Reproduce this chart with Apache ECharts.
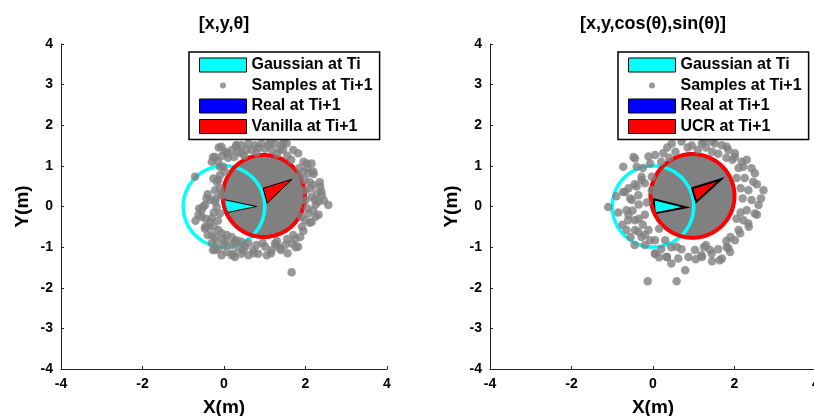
<!DOCTYPE html>
<html><head><meta charset="utf-8">
<script src="https://cdn.jsdelivr.net/npm/echarts@6/dist/echarts.min.js"></script>
<style>html,body{margin:0;padding:0;background:#fff}#c{width:814px;height:416px}</style>
</head><body><div id="c"></div><script>
// ---------- data ----------
const titles = ['[x,y,θ]', '[x,y,cos(θ),sin(θ)]'];
const legendNamesLeft = ['Gaussian at Ti', 'Samples at Ti+1', 'Real at Ti+1', 'Vanilla at Ti+1'];
const legendNamesRight = ['Gaussian at Ti', 'Samples at Ti+1', 'Real at Ti+1', 'UCR at Ti+1'];
const xTicks = [-4, -2, 0, 2, 4];
const yTicks = [-4, -3, -2, -1, 0, 1, 2, 3, 4];
const xName = 'X(m)';
const yName = 'Y(m)';

// circles: [cx, cy, r]; arrows: [x1,y1,x2,y2,x3,y3]
const leftGaussianCircle = [0.0, 0.0, 1.0];
const leftGaussianArrow = [0.0, 0.17, 0.02, -0.16, 0.8, 0.0];
const leftRealCircle = [0.96, 0.24, 1.02];
const leftVanillaCircle = [0.98, 0.26, 1.01];
const leftVanillaArrow = [0.96, 0.45, 1.06, 0.08, 1.67, 0.67];
const leftSampleCore = [0.98, 0.26, 1.01];

const rightGaussianCircle = [0.0, 0.0, 1.0];
const rightGaussianArrow = [0.02, 0.18, 0.04, -0.17, 0.81, -0.02];
const rightRealCircle = [0.96, 0.27, 1.05];
const rightUcrCircle = [0.97, 0.26, 1.03];
const rightUcrArrow = [0.96, 0.45, 1.06, 0.11, 1.67, 0.67];
const rightSampleCore = [0.97, 0.26, 1.03];

const leftSamples = [
[-0.06,1.47],[-0.22,1.22],[-0.30,1.10],[-0.14,1.10],[0.07,1.31],[0.19,1.39],[0.43,1.51],[0.60,1.55],[0.76,1.51],[0.92,1.55],
[1.09,1.51],[1.25,1.55],[1.42,1.51],[1.54,1.55],[1.70,1.39],[1.82,1.31],[1.37,1.39],[1.17,1.39],[0.35,1.35],[0.55,1.40],
[1.00,1.42],[0.43,1.31],[0.68,1.39],[-0.27,1.22],[-0.13,1.45],[0.03,1.35],
[0.10,1.20],[0.25,1.22],[0.50,1.25],[0.80,1.33],[1.30,1.30],[1.55,1.25],[1.65,1.15],[1.45,1.40],[0.85,1.45],[0.30,1.50],
[-0.05,1.25],[-0.10,0.98],[0.31,1.51],[1.13,1.59],[1.46,1.59],[2.03,1.06],[2.19,0.86],
[1.95,1.10],[2.15,1.06],[2.07,0.82],[2.19,0.53],[2.36,0.49],[2.40,0.28],[2.56,0.04],[2.32,0.12],[2.15,0.24],[2.19,-0.09],
[2.07,-0.17],[1.99,-0.34],[1.91,-0.50],[1.87,-0.75],[2.05,0.95],[2.10,0.60],[2.25,-0.25],[2.32,-0.20],[2.00,0.40],[2.05,-0.05],
[1.95,-0.60],[1.85,0.95],[2.35,0.60],[2.39,0.37],
[1.85,0.75],[1.98,0.65],[2.00,0.15],[2.10,-0.40],[1.90,-0.25],[2.20,0.80],[1.75,-0.80],[1.95,0.85],[2.25,0.05],[2.45,0.15],
[2.28,0.32],[2.12,0.45],[2.23,0.16],[2.15,-0.38],
[1.82,-0.99],[1.66,-0.91],[1.50,-0.95],[1.37,-1.03],[1.25,-0.91],[1.17,-1.07],[1.01,-0.99],[0.84,-1.16],[0.72,-1.07],[0.60,-1.20],
[0.52,-0.99],[0.43,-1.16],[0.27,-1.24],[0.19,-1.20],[0.07,-1.12],[-0.06,-1.20],[-0.22,-1.07],[-0.27,-1.07],[-0.14,-1.05],[1.56,-1.15],
[1.76,-1.00],[1.15,-1.15],[0.73,-1.15],[1.40,-1.07],[1.66,-1.62],
[1.55,-0.80],[1.30,-0.85],[0.95,-0.90],[0.60,-0.90],[1.05,-1.20],[0.35,-1.00],[0.00,-0.95],[-0.30,-0.90],[1.70,-0.70],[0.80,-0.95],
[1.29,-0.95],[0.47,-1.07],[0.23,-1.16],
[-0.63,-0.21],[-0.55,-0.09],[-0.47,0.03],[-0.34,0.16],[-0.38,-0.50],[-0.26,-0.50],[-0.14,-0.58],[-0.06,-0.66],[-0.22,-0.75],[-0.02,-0.79],
[0.07,-0.70],[0.19,-0.75],[0.27,-0.87],[-0.18,-0.01],[-0.30,-0.29],[-0.10,-0.17],[-0.22,0.40],[-0.14,0.65],[-0.26,0.69],[-0.10,0.77],
[0.02,0.86],[-0.02,0.98],[-0.61,-0.05],[-0.55,-0.25],[-0.46,-0.50],[-0.71,0.73],[0.43,-0.87],[0.31,-0.83],
[-0.40,0.30],[-0.45,-0.30],[-0.70,-0.35],[-0.25,-0.15],[-0.40,-0.70],[-0.15,-0.35],[-0.05,0.30],[-0.20,0.20],[-0.34,-0.38],[-0.47,-0.54],
[-0.30,-0.70],[-0.18,-0.87],[0.03,-0.87],[0.19,-0.95],[-0.22,0.12],[-0.06,0.28],[-0.18,0.61],[-0.10,0.45],[-0.51,0.00],[-0.43,0.20]
];

const rightSamples = [
[-1.10,-0.01],[-0.73,0.36],[-0.44,1.18],[-0.40,0.98],[-0.11,1.23],[-0.07,1.06],[0.05,1.27],[0.25,1.31],[0.46,1.55],[0.70,1.60],
[1.20,1.55],[1.44,1.60],[1.69,1.51],[1.85,1.39],[2.01,1.31],[2.18,1.10],[2.42,0.94],[2.50,0.82],[2.46,0.61],[2.34,0.40],
[2.71,0.40],[2.59,0.04],[2.42,0.16],[2.30,-0.09],[2.22,-0.34],[2.10,-0.58],[2.01,-0.83],[1.85,-1.03],[1.69,-1.28],[1.44,-1.16],
[1.20,-1.24],[1.03,-1.07],[0.87,-1.24],[0.62,-1.28],[0.34,-1.24],[0.05,-1.16],[-0.20,-0.95],[-0.28,-0.75],[-0.44,-0.58],[-0.61,-0.34],
[-0.65,-0.09],[-0.52,0.16],[-0.36,0.28],[-0.20,0.57],[-0.28,0.73],[-0.03,0.73],[-0.03,0.40],[-0.11,-0.58],[0.05,-0.83],[0.30,-0.83],
[0.79,-1.57],[-0.13,-1.84],[0.58,-1.84],[1.64,-1.32],[1.89,-1.12],
[0.95,1.50],[1.10,1.40],[0.55,1.35],[1.60,1.30],[2.25,0.70],[2.55,-0.20],[2.35,-0.50],[1.60,-1.05],[0.45,-1.00],[-0.45,0.55],
[0.85,1.45],[1.30,1.45],[2.10,0.95],[2.20,0.20],[2.05,-0.30],[1.80,-0.85],[1.25,-1.00],[0.70,-1.05],[0.20,-1.05],[-0.55,-0.75],
[-0.35,-0.30],[-0.50,-0.10],[-0.15,0.10],[-0.25,-0.45],[0.15,-0.55],[-0.60,0.45],[2.15,0.45],[1.95,1.15],[0.35,1.45],[-0.25,0.95],
[-0.85,-0.15],[-0.75,-0.45],[-0.73,0.98],[-0.48,1.22],[-0.45,-0.95],[-0.90,0.25],[-0.35,0.05],[-0.20,-0.20],[0.20,1.10],[0.40,1.20],
[1.45,1.35],[1.80,1.20],[1.25,1.60],[2.30,1.15],[2.55,0.55],[2.65,0.20],[2.50,-0.17],[2.34,-0.42],[2.14,-0.66],[1.81,-1.00],
[1.45,-1.35],[1.05,-1.30],[0.45,-1.40],[0.15,-1.25],[1.30,-0.95],[1.90,-0.75],[2.05,0.70],[2.15,-0.15],[-0.69,0.36],[-0.56,0.20],
[-0.60,-0.21],[-0.44,-0.34],[-0.65,-0.58],[-0.36,-0.62],[-0.20,-0.70],[-0.07,-0.83],[0.58,-0.99],[1.19,-1.20],[1.40,-1.07],[2.22,0.98],
[2.01,1.22],[1.81,1.47],[1.52,1.55],[-0.40,0.49],[-0.28,0.65],[0.05,-1.16],[0.34,-1.24]
];

// ---------- helpers ----------
const FONT = '"Liberation Sans", Arial, Helvetica, sans-serif';

function circleRender(fill, stroke, lw) {
  return function (params, api) {
    const cx = api.value(0), cy = api.value(1), r = api.value(2);
    const pts = [];
    for (let k = 0; k <= 90; k++) {
      const a = k / 90 * 2 * Math.PI;
      pts.push(api.coord([cx + r * Math.cos(a), cy + r * Math.sin(a)]));
    }
    return { type: 'polygon', shape: { points: pts }, style: { fill: fill, stroke: stroke, lineWidth: lw, lineJoin: 'round' } };
  };
}
function triRender(fill, lw) {
  return function (params, api) {
    const pts = [];
    for (let k = 0; k < 3; k++) pts.push(api.coord([api.value(2 * k), api.value(2 * k + 1)]));
    return { type: 'polygon', shape: { points: pts }, style: { fill: fill, stroke: '#000', lineWidth: lw, lineJoin: 'miter' } };
  };
}

function buildSeries(g, samples, core, gCircle, gArrow, realCircle, estName, estCircle, estArrow, triLw) {
  return [
    { type: 'scatter', name: 'Samples at Ti+1', xAxisIndex: g, yAxisIndex: g, data: samples, symbolSize: 8.5,
      itemStyle: { color: '#808080' }, silent: true },
    { type: 'custom', name: 'Samples at Ti+1', xAxisIndex: g, yAxisIndex: g, data: [core],
      encode: { x: 0, y: 1 }, itemStyle: { color: '#808080' }, renderItem: circleRender('#808080', null, 0), silent: true },
    { type: 'custom', name: 'Gaussian at Ti', xAxisIndex: g, yAxisIndex: g, data: [gCircle],
      encode: { x: 0, y: 1 }, itemStyle: { color: '#00ffff' }, renderItem: circleRender('none', '#00ffff', 3.5), silent: true },
    { type: 'custom', name: 'Gaussian at Ti', xAxisIndex: g, yAxisIndex: g, data: [gArrow],
      encode: { x: [0, 2, 4], y: [1, 3, 5] }, itemStyle: { color: '#00ffff' }, renderItem: triRender('#00ffff', triLw), silent: true },
    { type: 'custom', name: 'Real at Ti+1', xAxisIndex: g, yAxisIndex: g, data: [realCircle],
      encode: { x: 0, y: 1 }, itemStyle: { color: '#0000ff' }, renderItem: circleRender('none', '#0000ff', 1), silent: true },
    { type: 'custom', name: estName, xAxisIndex: g, yAxisIndex: g, data: [estCircle],
      encode: { x: 0, y: 1 }, itemStyle: { color: '#ff0000' }, renderItem: circleRender('none', '#ff0000', 4), silent: true },
    { type: 'custom', name: estName, xAxisIndex: g, yAxisIndex: g, data: [estArrow],
      encode: { x: [0, 2, 4], y: [1, 3, 5] }, itemStyle: { color: '#ff0000' }, renderItem: triRender('#ff0000', triLw), silent: true }
  ];
}

function axisCommon(ticks, gi) {
  return {
    type: 'value', gridIndex: gi,
    min: ticks[0], max: ticks[ticks.length - 1], interval: ticks[1] - ticks[0],
    splitLine: { show: false },
    axisLine: { show: true, onZero: false, lineStyle: { color: '#222', width: 1 } },
    axisTick: { show: true, inside: true, length: 3, lineStyle: { color: '#222' } },
    axisLabel: { color: '#000', fontSize: 14, fontWeight: 'bold', fontFamily: FONT, hideOverlap: false },
    nameLocation: 'middle',
    nameTextStyle: { color: '#000', fontSize: 19, fontWeight: 'bold', fontFamily: FONT }
  };
}

const dotIcon = 'path://M0,0L0.01,0M47,14L47.01,14M20.5,7a3,3 0 1,0 6,0a3,3 0 1,0 -6,0Z';
function legendData(names) {
  const cols = ['#00ffff', '#808080', '#0000ff', '#ff0000'];
  return names.map((n, i) => i === 1
    ? { name: n, icon: dotIcon, itemStyle: { color: cols[i], borderWidth: 0 } }
    : { name: n, icon: 'rect', itemStyle: { color: cols[i], borderColor: '#000', borderWidth: 1 } });
}
function legendCommon(names, left) {
  return {
    data: legendData(names), orient: 'vertical', left: left, top: 52,
    itemWidth: 47, itemHeight: 14, itemGap: 4.5, padding: [5, 7, 5, 10],
    backgroundColor: '#fff', borderColor: '#000', borderWidth: 1.5, selectedMode: false,
    textStyle: { color: '#000', fontSize: 16, fontWeight: 'bold', fontFamily: FONT }
  };
}

const option = {
  animation: false,
  backgroundColor: '#fff',
  title: [
    { text: titles[0], left: 224, top: 15, textAlign: 'center', padding: 0,
      textStyle: { fontSize: 18, fontWeight: 'bold', fontFamily: FONT, color: '#000' } },
    { text: titles[1], left: 653, top: 15, textAlign: 'center', padding: 0,
      textStyle: { fontSize: 18, fontWeight: 'bold', fontFamily: FONT, color: '#000' } }
  ],
  legend: [legendCommon(legendNamesLeft, 189), legendCommon(legendNamesRight, 618)],
  grid: [
    { left: 61, top: 44, width: 326, height: 325, containLabel: false, outerBoundsMode: 'none' },
    { left: 490, top: 44, width: 326, height: 325, containLabel: false, outerBoundsMode: 'none' }
  ],
  xAxis: [
    Object.assign(axisCommon(xTicks, 0), { name: xName, nameGap: 29 }),
    Object.assign(axisCommon(xTicks, 1), { name: xName, nameGap: 29 })
  ],
  yAxis: [
    Object.assign(axisCommon(yTicks, 0), { name: yName, nameGap: 29 }),
    Object.assign(axisCommon(yTicks, 1), { name: yName, nameGap: 29 })
  ],
  series: [].concat(
    buildSeries(0, leftSamples, leftSampleCore, leftGaussianCircle, leftGaussianArrow, leftRealCircle,
      'Vanilla at Ti+1', leftVanillaCircle, leftVanillaArrow, 1),
    buildSeries(1, rightSamples, rightSampleCore, rightGaussianCircle, rightGaussianArrow, rightRealCircle,
      'UCR at Ti+1', rightUcrCircle, rightUcrArrow, 2)
  )
};
const chart = echarts.init(document.getElementById('c'), null, { renderer: 'canvas' });
chart.setOption(option);
</script></body></html>
